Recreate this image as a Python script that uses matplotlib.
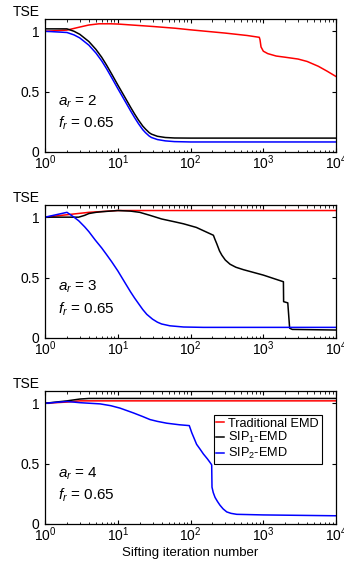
import numpy as np
import matplotlib
matplotlib.use('Agg')
import matplotlib.pyplot as plt

plt.rcParams['font.family'] = ['Liberation Sans', 'DejaVu Sans']
plt.rcParams['mathtext.fontset'] = 'custom'
plt.rcParams['mathtext.rm'] = 'Liberation Sans'
plt.rcParams['mathtext.it'] = 'Liberation Sans:italic'

# Panel 1 (a_r = 2)
p1_red_x = [1, 2, 3, 4, 5.5, 8, 10, 30, 62, 100, 300, 600, 880, 900, 930, 1000, 1150, 1500, 2000, 3000, 4000, 5700, 7500, 10000]
p1_red_y = [1.0, 1.01, 1.035, 1.052, 1.062, 1.062, 1.06, 1.04, 1.025, 1.012, 0.985, 0.965, 0.95, 0.93, 0.87, 0.835, 0.815, 0.795, 0.785, 0.77, 0.75, 0.71, 0.67, 0.625]
p1_blk_x = [1, 2, 2.5, 3, 4, 5, 6, 7, 8.25, 10, 12.6, 15, 17, 19.2, 22, 24, 27, 29, 35, 45, 60, 100, 10000]
p1_blk_y = [1.02, 1.02, 1.0, 0.975, 0.915, 0.85, 0.785, 0.72, 0.645, 0.555, 0.45, 0.37, 0.315, 0.265, 0.215, 0.19, 0.16, 0.148, 0.13, 0.12, 0.116, 0.115, 0.115]
p1_blu_x = [1, 2, 2.5, 3, 4, 5, 6, 7, 8.25, 10, 12.6, 15, 17, 19.2, 22, 24, 27, 29, 35, 45, 60, 100, 10000]
p1_blu_y = [1.0, 0.99, 0.97, 0.945, 0.885, 0.82, 0.755, 0.69, 0.615, 0.525, 0.42, 0.34, 0.285, 0.235, 0.185, 0.16, 0.132, 0.12, 0.103, 0.092, 0.086, 0.083, 0.083]

# Panel 2 (a_r = 3)
p2_red_x = [1, 2, 4, 10, 10000]
p2_red_y = [1.0, 1.02, 1.04, 1.055, 1.055]
p2_blk_x = [1, 2.9, 3.5, 4, 5, 6, 10, 15, 20, 27.7, 40, 62, 80, 120, 206, 215, 229, 250, 269, 300, 349, 420, 532,
            1000, 1888, 1900, 2168, 2300, 2500, 10000]
p2_blk_y = [1.0, 1.0, 1.015, 1.03, 1.04, 1.045, 1.055, 1.05, 1.04, 1.015, 0.985, 0.96, 0.945, 0.915, 0.85, 0.82, 0.78, 0.72, 0.685, 0.645, 0.61, 0.585, 0.565,
            0.52, 0.465, 0.30, 0.29, 0.08, 0.07, 0.065]
p2_blu_x = [1, 2, 2.5, 2.9, 3.5, 4, 4.9, 6, 7, 8.25, 10, 12.6, 15, 17, 20, 22, 25, 30, 35, 40, 52, 80, 150, 10000]
p2_blu_y = [1.0, 1.04, 1.0, 0.97, 0.92, 0.88, 0.81, 0.745, 0.69, 0.63, 0.555, 0.455, 0.38, 0.33, 0.27, 0.235, 0.195, 0.155, 0.13, 0.115, 0.10, 0.09, 0.087, 0.087]

# Panel 3 (a_r = 4)
p3_red_x = [1, 2, 3, 10000]
p3_red_y = [1.0, 1.01, 1.02, 1.02]
p3_blk_x = [1, 2, 3, 4, 10000]
p3_blk_y = [1.0, 1.02, 1.035, 1.04, 1.04]
p3_blu_x = [1, 2, 3, 5.7, 8, 10.7, 16.4, 22, 27.7, 35, 47, 70, 96, 104, 110, 121, 135, 150, 170, 185, 195, 197,
            205, 217, 235, 254, 280, 314, 360, 431, 1000, 10000]
p3_blu_y = [1.0, 1.015, 1.005, 0.995, 0.98, 0.96, 0.92, 0.89, 0.865, 0.85, 0.835, 0.822, 0.815, 0.755, 0.72, 0.66, 0.62, 0.58, 0.54, 0.51, 0.49, 0.305,
            0.26, 0.22, 0.185, 0.155, 0.125, 0.10, 0.088, 0.08, 0.075, 0.068]

panels = [
    (p1_red_x, p1_red_y, p1_blk_x, p1_blk_y, p1_blu_x, p1_blu_y, '2'),
    (p2_red_x, p2_red_y, p2_blk_x, p2_blk_y, p2_blu_x, p2_blu_y, '3'),
    (p3_red_x, p3_red_y, p3_blk_x, p3_blk_y, p3_blu_x, p3_blu_y, '4'),
]
bottoms = [0.731, 0.402, 0.0726]
height = 0.235

fig = plt.figure(figsize=(3.44, 5.65), dpi=100, facecolor='w')
for i, (rx, ry, kx, ky, bx, by, ar) in enumerate(panels):
    ax = fig.add_axes([0.131, bottoms[i], 0.846, height])
    ax.plot(rx, ry, color='#ff0000', lw=1.1, label='Traditional EMD')
    ax.plot(kx, ky, color='k', lw=1.1, label='SIP$_1$-EMD')
    ax.plot(bx, by, color='#0000ff', lw=1.1, label='SIP$_2$-EMD')
    ax.set_xscale('log')
    ax.set_xlim(1, 1e4)
    ax.set_ylim(0, 1.1)
    ax.set_yticks([0, 0.5, 1])
    ax.set_yticklabels(['0', '0.5', '1'])
    ax.tick_params(which='both', direction='in', top=True, right=True, labelsize=10)
    ax.tick_params(axis='y', pad=4)
    ax.tick_params(axis='x', pad=1)
    ax.tick_params(which='major', length=3, width=0.8)
    ax.tick_params(which='minor', length=1.8, width=0.6)
    for s in ax.spines.values():
        s.set_linewidth(0.9)
    ax.text(-0.11, 1.0, 'TSE', transform=ax.transAxes, fontsize=10, ha='left', va='bottom')
    ax.text(0.045, 0.353, '$a_r$ = ' + ar, transform=ax.transAxes, fontsize=11, ha='left', va='baseline')
    ax.text(0.045, 0.18, '$f_r$ = 0.65', transform=ax.transAxes, fontsize=11, ha='left', va='baseline')
    if i == 2:
        ax.set_xlabel('Sifting iteration number', fontsize=9.5, labelpad=2)
        leg = ax.legend(loc='upper right', bbox_to_anchor=(0.95, 0.82), fontsize=9.2,
                        handlelength=0.6, handletextpad=0.35, borderpad=0.2,
                        labelspacing=0.05, fancybox=False, framealpha=1,
                        borderaxespad=0)
        leg.get_frame().set_edgecolor('k')
        leg.get_frame().set_linewidth(0.8)

plt.savefig('out.png', dpi=100)
